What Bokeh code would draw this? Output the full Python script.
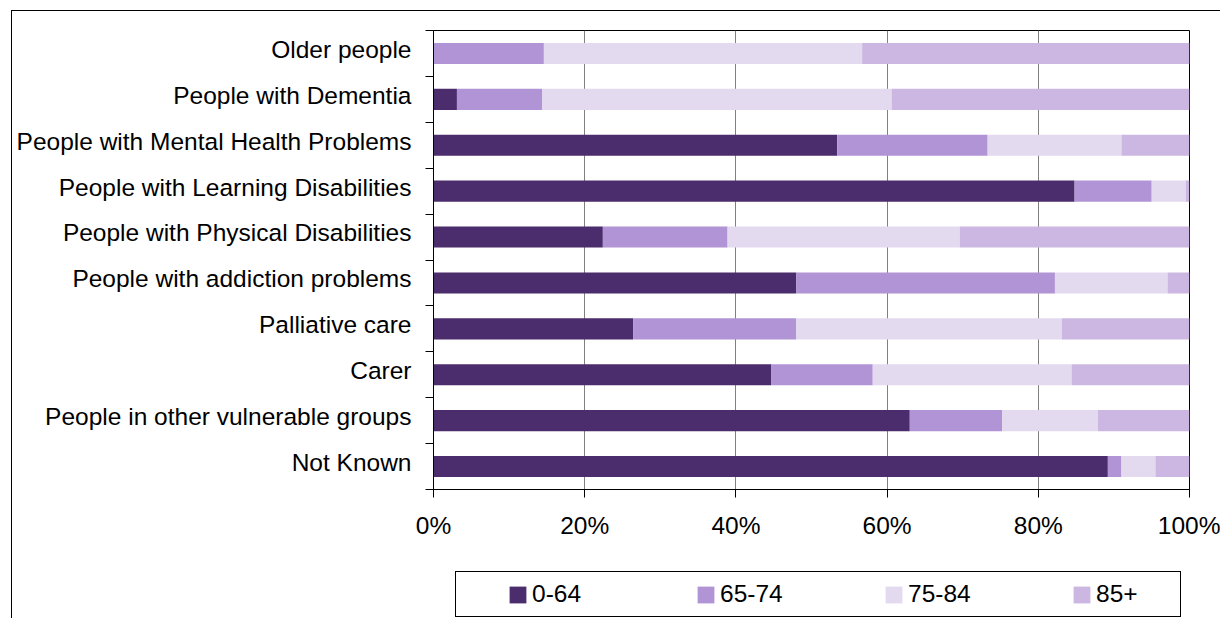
from bokeh.plotting import figure
from bokeh.layouts import column
from bokeh.models import (ColumnDataSource, Range1d, FixedTicker, PrintfTickFormatter,
                          Legend, LegendItem)
from bokeh.embed import file_html
from bokeh.resources import INLINE

categories = ["Older people", "People with Dementia", "People with Mental Health Problems",
              "People with Learning Disabilities", "People with Physical Disabilities",
              "People with addiction problems", "Palliative care", "Carer",
              "People in other vulnerable groups", "Not Known"]
age_groups = ["0-64", "65-74", "75-84", "85+"]
v_0_64 = [0.0, 3.1, 53.4, 84.8, 22.4, 48.0, 26.4, 44.7, 63.0, 89.2]
v_65_74 = [14.6, 11.3, 19.9, 10.2, 16.5, 34.2, 21.6, 13.4, 12.2, 1.8]
v_75_84 = [42.1, 46.2, 17.7, 4.5, 30.7, 14.9, 35.1, 26.3, 12.7, 4.5]
v_85_plus = [43.3, 39.4, 9.0, 0.5, 30.4, 2.9, 16.9, 15.6, 12.1, 4.5]
x_ticks = [0, 20, 40, 60, 80, 100]
colors = ["#4B2C6D", "#B194D6", "#E3DAF0", "#CBB7E1"]

FONT = "Liberation Sans"
FS = "24.5px"
n = len(categories)
ypos = [n - 0.5 - i for i in range(n)]
label_pos = [y + 0.09 for y in ypos]

source = ColumnDataSource(dict(y=ypos, a=v_0_64, b=v_65_74, c=v_75_84, d=v_85_plus))
stackers = ["a", "b", "c", "d"]

W = 1208
p = figure(width=W, height=548, x_range=Range1d(0, 100), y_range=Range1d(0, n),
           output_backend="svg", toolbar_location=None,
           min_border_left=421, min_border_right=31, min_border_top=19, min_border_bottom=70)
p.outline_line_color = "black"
p.outline_line_width = 1

p.hbar_stack(stackers, y="y", height=0.46, color=colors, line_color=None, source=source)

p.ygrid.visible = False
p.xgrid.ticker = FixedTicker(ticks=x_ticks)
p.xgrid.grid_line_color = "#808080"
p.xgrid.grid_line_width = 1

xa = p.xaxis[0]
xa.ticker = FixedTicker(ticks=x_ticks)
xa.formatter = PrintfTickFormatter(format="%d%%")
xa.major_tick_out = 8
xa.major_tick_in = 0
xa.minor_tick_out = 0
xa.minor_tick_in = 0
xa.axis_line_color = "black"
xa.major_tick_line_color = "black"
xa.major_label_text_font = FONT
xa.major_label_text_font_size = FS
xa.major_label_text_color = "black"
xa.major_label_standoff = 14

ya = p.yaxis[0]
ya.ticker = FixedTicker(ticks=label_pos, minor_ticks=list(range(0, n + 1)))
ya.major_label_overrides = {y: c for y, c in zip(label_pos, categories)}
ya.major_tick_out = 0
ya.major_tick_in = 0
ya.minor_tick_out = 8
ya.minor_tick_in = 0
ya.minor_tick_line_color = "black"
ya.axis_line_color = "black"
ya.major_label_text_font = FONT
ya.major_label_text_font_size = FS
ya.major_label_text_color = "black"
ya.major_label_standoff = 14

# legend strip below the chart (same series, drawn out of view; only the legend shows)
p2 = figure(width=W, height=59, x_range=Range1d(0, 100), y_range=Range1d(100, 101),
            output_backend="svg", toolbar_location=None,
            x_axis_location=None, y_axis_location=None,
            min_border=0, min_border_left=0, min_border_right=0,
            min_border_top=0, min_border_bottom=0)
p2.outline_line_color = None
p2.xgrid.visible = False
p2.ygrid.visible = False
leg_renderers = p2.hbar_stack(stackers, y="y", height=0.46, color=colors,
                              line_color=None, source=source)

legend = Legend(items=[LegendItem(label=g, renderers=[r]) for g, r in zip(age_groups, leg_renderers)],
                orientation="horizontal", spacing=87, padding=8, margin=0,
                glyph_width=21, glyph_height=21, label_standoff=4, label_width=76,
                label_text_font=FONT, label_text_font_size=FS, label_text_color="black",
                title=" ", title_location="left", title_standoff=38,
                title_text_font_size="4px",
                border_line_color="black", border_line_width=1, border_line_alpha=1,
                background_fill_alpha=0,
                location=(22, 1))
p2.add_layout(legend, "center")

layout = column(p, p2, spacing=0)
layout.margin = (10, 0, 0, 11)
layout.styles = {"border-left": "1px solid black", "border-top": "1px solid black"}

open("out.html", "w").write(file_html(layout, INLINE))
